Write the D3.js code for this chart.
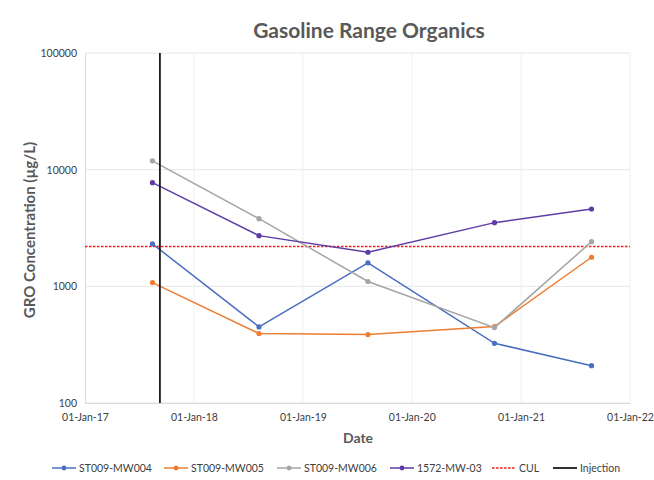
<!DOCTYPE html>
<html><head><meta charset="utf-8">
<script src="https://cdn.jsdelivr.net/npm/d3@7"></script>
<style>body{margin:0;background:#fff;} svg{display:block;font-family:Lato,"Open Sans",sans-serif;}</style>
</head><body><svg id="c" width="654" height="480"></svg>
<script>
const sampleDates = ["2017-08-15","2018-08-07","2019-08-07","2020-10-04","2021-08-25"];
const mw004 = [2310, 449, 1590, 325, 209];
const mw005 = [1076, 394, 386, 452, 1775];
const mw006 = [11900, 3800, 1100, 443, 2415];
const mw03 = [7740, 2720, 1960, 3515, 4600];
const culValue = 2200;
const injectionDate = "2017-09-09";
const yTicks = [100, 1000, 10000, 100000];
const xTickDates = ["2017-01-01","2018-01-01","2019-01-01","2020-01-01","2021-01-01","2022-01-01"];
const seriesNames = ["ST009-MW004","ST009-MW005","ST009-MW006","1572-MW-03"];
const seriesColors = ["#4a6fc0","#ed7d31","#a5a5a5","#5e3ca6"];

const parse = d3.timeParse("%Y-%m-%d");
const series = [mw004, mw005, mw006, mw03].map((vals, i) => ({
  name: seriesNames[i], color: seriesColors[i],
  pts: vals.map((v, j) => ({d: parse(sampleDates[j]), v}))
}));

const svg = d3.select("#c");
const L = 85, R = 630, T = 53, B = 403;
const x = d3.scaleTime().domain([parse(xTickDates[0]), parse(xTickDates[5])]).range([L, R]);
const y = d3.scaleLog().domain([100, 100000]).range([B, T]);

// gridlines
const g = svg.append("g");
g.selectAll("line.h").data(yTicks).join("line")
  .attr("x1", L).attr("x2", R).attr("y1", d => y(d)).attr("y2", d => y(d))
  .attr("stroke", "#e6e6e6").attr("stroke-width", 1);
g.selectAll("line.v").data(xTickDates.slice(1)).join("line")
  .attr("x1", d => x(parse(d))).attr("x2", d => x(parse(d))).attr("y1", T).attr("y2", B)
  .attr("stroke", "#f0f0f0").attr("stroke-width", 1);

// axes
const yAxis = d3.axisLeft(y).tickValues(yTicks).tickFormat(d3.format("d")).tickSize(0).tickPadding(8);
const ya = svg.append("g").attr("transform", `translate(${L},0)`).call(yAxis);
ya.select(".domain").attr("stroke", "#d9d9d9");
ya.selectAll("text").attr("font-size", 10.5).attr("fill", "#404040").attr("font-family", "Lato, sans-serif");

const xAxis = d3.axisBottom(x).tickValues(xTickDates.map(parse)).tickFormat(d3.timeFormat("%d-%b-%y")).tickSize(0).tickPadding(11);
const xa = svg.append("g").attr("transform", `translate(0,${B})`).call(xAxis);
xa.select(".domain").attr("stroke", "#d9d9d9");
xa.selectAll("text").attr("font-size", 10.5).attr("fill", "#404040").attr("font-family", "Lato, sans-serif");

// CUL
svg.append("line").attr("x1", L).attr("x2", R).attr("y1", y(culValue)).attr("y2", y(culValue))
  .attr("stroke", "#ff1a1a").attr("stroke-width", 1.5).attr("stroke-dasharray", "2.5,1.5");

// series
const line = d3.line().x(p => x(p.d)).y(p => y(p.v));
series.forEach(s => {
  svg.append("path").datum(s.pts).attr("d", line).attr("fill", "none")
    .attr("stroke", s.color).attr("stroke-width", 1.5);
  svg.selectAll(null).data(s.pts).join("circle")
    .attr("cx", p => x(p.d)).attr("cy", p => y(p.v)).attr("r", 2.6).attr("fill", s.color);
});

// injection
svg.append("line").attr("x1", x(parse(injectionDate))).attr("x2", x(parse(injectionDate)))
  .attr("y1", T).attr("y2", B).attr("stroke", "#1a1a1a").attr("stroke-width", 1.8);

// titles
svg.append("text").attr("x", 369).attr("y", 38).attr("text-anchor", "middle")
  .attr("font-size", 21).attr("font-weight", "bold").attr("fill", "#595959").text("Gasoline Range Organics");
svg.append("text").attr("x", 358).attr("y", 443).attr("text-anchor", "middle")
  .attr("font-size", 14).attr("font-weight", "bold").attr("fill", "#595959").text("Date");
svg.append("text").attr("transform", "translate(35,230) rotate(-90)").attr("text-anchor", "middle")
  .attr("font-size", 15).attr("font-weight", "bold").attr("fill", "#595959").text("GRO Concentration (\u00b5g/L)");

// legend
const legendItems = [
  {name: seriesNames[0], color: seriesColors[0], x: 52, type: "marker"},
  {name: seriesNames[1], color: seriesColors[1], x: 164, type: "marker"},
  {name: seriesNames[2], color: seriesColors[2], x: 277, type: "marker"},
  {name: seriesNames[3], color: seriesColors[3], x: 390, type: "marker"},
  {name: "CUL", color: "#ff1a1a", x: 492, type: "dash"},
  {name: "Injection", color: "#1a1a1a", x: 553, type: "solid"}
];
const ly = 468;
const lg = svg.append("g");
legendItems.forEach(it => {
  const ln = lg.append("line").attr("x1", it.x).attr("x2", it.x + 24).attr("y1", ly).attr("y2", ly)
    .attr("stroke", it.color).attr("stroke-width", it.type === "solid" ? 1.8 : 1.5);
  if (it.type === "dash") ln.attr("stroke-dasharray", "2.5,1.5");
  if (it.type === "marker") lg.append("circle").attr("cx", it.x + 12).attr("cy", ly).attr("r", 2.4).attr("fill", it.color);
  lg.append("text").attr("x", it.x + 27).attr("y", ly + 4).attr("font-size", 10.5).attr("fill", "#404040").text(it.name);
});
</script></body></html>
